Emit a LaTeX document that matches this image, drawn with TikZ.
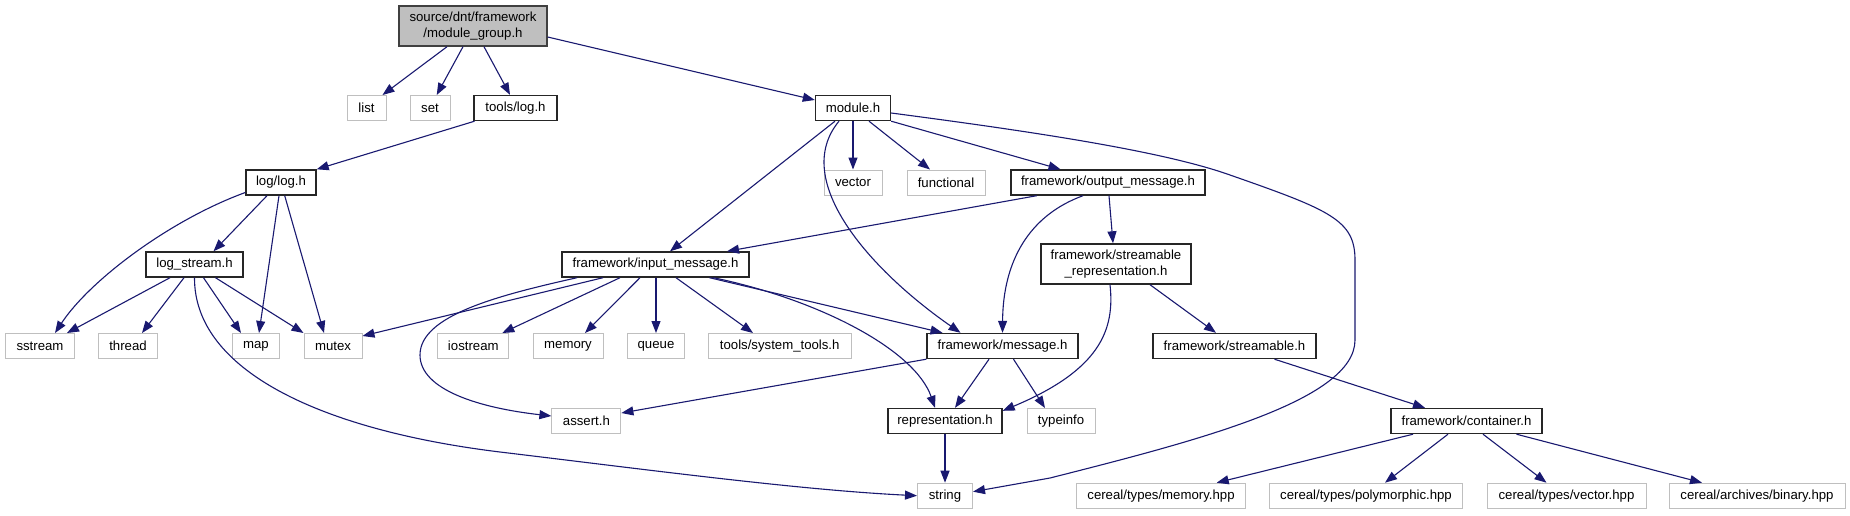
\documentclass[tikz,border=0pt]{standalone}
\usepackage{fontspec}
\setmainfont{Liberation Sans}
\usetikzlibrary{arrows.meta}
\definecolor{edgecol}{HTML}{191970}
\definecolor{grayb}{HTML}{BFBFBF}
\definecolor{darkb}{HTML}{404040}
\begin{document}
\begin{tikzpicture}[x=1pt,y=-1pt,
 nd/.style={rectangle, inner sep=0pt, minimum height=25pt, font=\fontsize{13.2}{16}\selectfont, align=center, fill=white},
 blk/.style={nd, draw=black!85, line width=1.4pt},
 sys/.style={nd, draw=grayb, line width=1pt},
 topn/.style={nd, draw=darkb, fill=grayb, line width=1.4pt, minimum height=40pt},
 two/.style={blk, minimum height=40pt},
 edge/.style={draw=edgecol, line width=1.1pt, -{Triangle[length=12pt,width=9pt]}}
]
\useasboundingbox[fill=white] (0,0) rectangle (1850,515);

% row 0
\node[topn, minimum width=148pt] (mg) at (473,26) {source/dnt/framework\\/module\_group.h};
% row 1
\node[sys, minimum width=39pt] (list) at (366.5,108) {list};
\node[sys, minimum width=40pt] (set) at (430,108) {set};
\node[blk, minimum width=83pt] (toolslog) at (515.5,108) {tools/log.h};
\node[blk, minimum width=75pt] (module) at (853,108) {module.h};
% row 2
\node[blk, minimum width=70pt] (loglog) at (281,182.5) {log/log.h};
\node[sys, minimum width=58pt] (vector) at (853,182.5) {vector};
\node[sys, minimum width=78pt] (functional) at (946,182.5) {functional};
\node[blk, minimum width=194pt] (outmsg) at (1108,182.5) {framework/output\_message.h};
% row 3
\node[blk, minimum width=97pt] (logstream) at (194.5,264.5) {log\_stream.h};
\node[blk, minimum width=187pt] (inmsg) at (655.5,264.5) {framework/input\_message.h};
\node[two, minimum width=150pt] (strrep) at (1116,264) {framework/streamable\\\_representation.h};
% row 4
\node[sys, minimum width=69pt] (sstream) at (40,346) {sstream};
\node[sys, minimum width=59pt] (thread) at (128,346) {thread};
\node[sys, minimum width=47pt] (map) at (256,346) {map};
\node[sys, minimum width=58pt] (mutex) at (333,346) {mutex};
\node[sys, minimum width=71pt] (iostream) at (473.3,346) {iostream};
\node[sys, minimum width=70pt] (memory) at (568,346) {memory};
\node[sys, minimum width=57pt] (queue) at (656,346) {queue};
\node[sys, minimum width=143pt] (systools) at (779.7,346) {tools/system\_tools.h};
\node[blk, minimum width=151pt] (message) at (1002.5,346) {framework/message.h};
\node[blk, minimum width=163pt] (streamable) at (1234.5,346) {framework/streamable.h};
% row 5
\node[sys, minimum width=69pt] (assert) at (586.4,421) {assert.h};
\node[blk, minimum width=114pt] (repr) at (945,421) {representation.h};
\node[sys, minimum width=68pt] (typeinfo) at (1061,421) {typeinfo};
\node[blk, minimum width=151pt] (container) at (1466.5,421) {framework/container.h};
% row 6
\node[sys, minimum width=55pt] (string) at (945,495.7) {string};
\node[sys, minimum width=169pt] (cmem) at (1161,495.7) {cereal/types/memory.hpp};
\node[sys, minimum width=193pt] (cpoly) at (1366,495.7) {cereal/types/polymorphic.hpp};
\node[sys, minimum width=159pt] (cvec) at (1566.5,495.7) {cereal/types/vector.hpp};
\node[sys, minimum width=176pt] (cbin) at (1757,495.7) {cereal/archives/binary.hpp};

% edges from module_group
\draw[edge] ([xshift=-26pt]mg.south) -- ([xshift=16pt]list.north);
\draw[edge] ([xshift=-10pt]mg.south) -- ([xshift=6.7pt]set.north);
\draw[edge] ([xshift=11pt]mg.south) -- ([xshift=-5.5pt]toolslog.north);
\draw[edge] ([yshift=-11pt]mg.east) -- ([yshift=8pt]module.west);
% tools/log.h
\draw[edge] ([xshift=-41pt]toolslog.south) -- (loglog.north east);
% log/log.h
\draw[edge] ([xshift=-14pt]loglog.south) -- ([xshift=19pt]logstream.north);
\draw[edge] ([xshift=-2pt]loglog.south) -- ([xshift=3pt]map.north);
\draw[edge] ([xshift=3.7pt]loglog.south) -- ([xshift=-9pt]mutex.north);
\draw[edge] ([yshift=-10pt]loglog.west) .. controls (170,220) and (90,280) .. ([xshift=15pt]sstream.north);
% log_stream.h
\draw[edge] ([xshift=-24.5pt]logstream.south) -- ([xshift=27pt]sstream.north);
\draw[edge] ([xshift=-10.5pt]logstream.south) -- ([xshift=14pt]thread.north);
\draw[edge] ([xshift=9pt]logstream.south) -- ([xshift=-15pt]map.north);
\draw[edge] ([xshift=21pt]logstream.south) -- (mutex.north west);
\draw[edge] (logstream.south) .. controls (194,370) and (320,430) .. (500,452)
  .. controls (650,470) and (800,490) .. (string.west);
% input_message.h
\draw[edge] ([xshift=-52.5pt]inmsg.south) -- ([yshift=-3pt]mutex.north east);
\draw[edge] ([xshift=-78.5pt]inmsg.south) .. controls (500,295) and (420,315) .. (420,355)
  .. controls (420,390) and (480,408) .. ([yshift=5pt]assert.west);
\draw[edge] ([xshift=-35.5pt]inmsg.south) -- ([xshift=29pt]iostream.north);
\draw[edge] ([xshift=-15.5pt]inmsg.south) -- ([xshift=17pt]memory.north);
\draw[edge] ([xshift=0.5pt]inmsg.south) -- (queue.north);
\draw[edge] ([xshift=20.5pt]inmsg.south) -- ([xshift=-26.7pt]systools.north);
\draw[edge] ([xshift=54pt]inmsg.south) -- ([xshift=-60pt]message.north);
\draw[edge] ([xshift=58pt]inmsg.south) .. controls (820,300) and (915,350) .. ([xshift=-10pt]repr.north);
% module.h
\draw[edge] ([xshift=-18pt]module.south) -- ([xshift=14.5pt]inmsg.north);
\draw[edge] ([xshift=-14pt]module.south) .. controls (790,180) and (870,270) .. ([xshift=-42pt]message.north);
\draw[edge] (module.south) -- (vector.north);
\draw[edge] ([xshift=16pt]module.south) -- ([xshift=-16pt]functional.north);
\draw[edge] (module.south east) -- ([xshift=-47.5pt]outmsg.north);
\draw[edge] ([yshift=-5pt]module.east) .. controls (1020,130) and (1160,150) .. (1230,175)
  .. controls (1330,210) and (1355,220) .. (1355,260) -- (1355,340)
  .. controls (1355,400) and (1200,440) .. (1050,478) -- ([yshift=4pt]string.east);
% output_message.h
\draw[edge] ([xshift=-71.3pt]outmsg.south) -- ([xshift=71.5pt]inmsg.north);
\draw[edge] ([xshift=-25pt]outmsg.south) .. controls (1030,215) and (1003,260) .. (message.north);
\draw[edge] ([xshift=1pt]outmsg.south) -- ([xshift=-3pt]strrep.north);
% streamable_representation.h
\draw[edge] ([xshift=34pt]strrep.south) -- ([xshift=-18.5pt]streamable.north);
\draw[edge] ([xshift=-6pt]strrep.south) .. controls (1115,330) and (1100,370) .. ([yshift=-3pt]repr.north east);
% message.h
\draw[edge] (message.south west) -- ([yshift=8pt]assert.east);
\draw[edge] ([xshift=-13.5pt]message.south) -- ([xshift=10pt]repr.north);
\draw[edge] ([xshift=11pt]message.south) -- ([xshift=-16pt]typeinfo.north);
% representation.h
\draw[edge] (repr.south) -- (string.north);
% streamable.h
\draw[edge] ([xshift=40pt]streamable.south) -- ([xshift=-41.5pt]container.north);
% container.h
\draw[edge] ([xshift=-53.5pt]container.south) -- ([xshift=55.7pt]cmem.north);
\draw[edge] ([xshift=-18.5pt]container.south) -- ([xshift=19pt]cpoly.north);
\draw[edge] ([xshift=16.5pt]container.south) -- ([xshift=-20pt]cvec.north);
\draw[edge] ([xshift=50pt]container.south) -- ([xshift=-55pt]cbin.north);
\end{tikzpicture}
\end{document}
